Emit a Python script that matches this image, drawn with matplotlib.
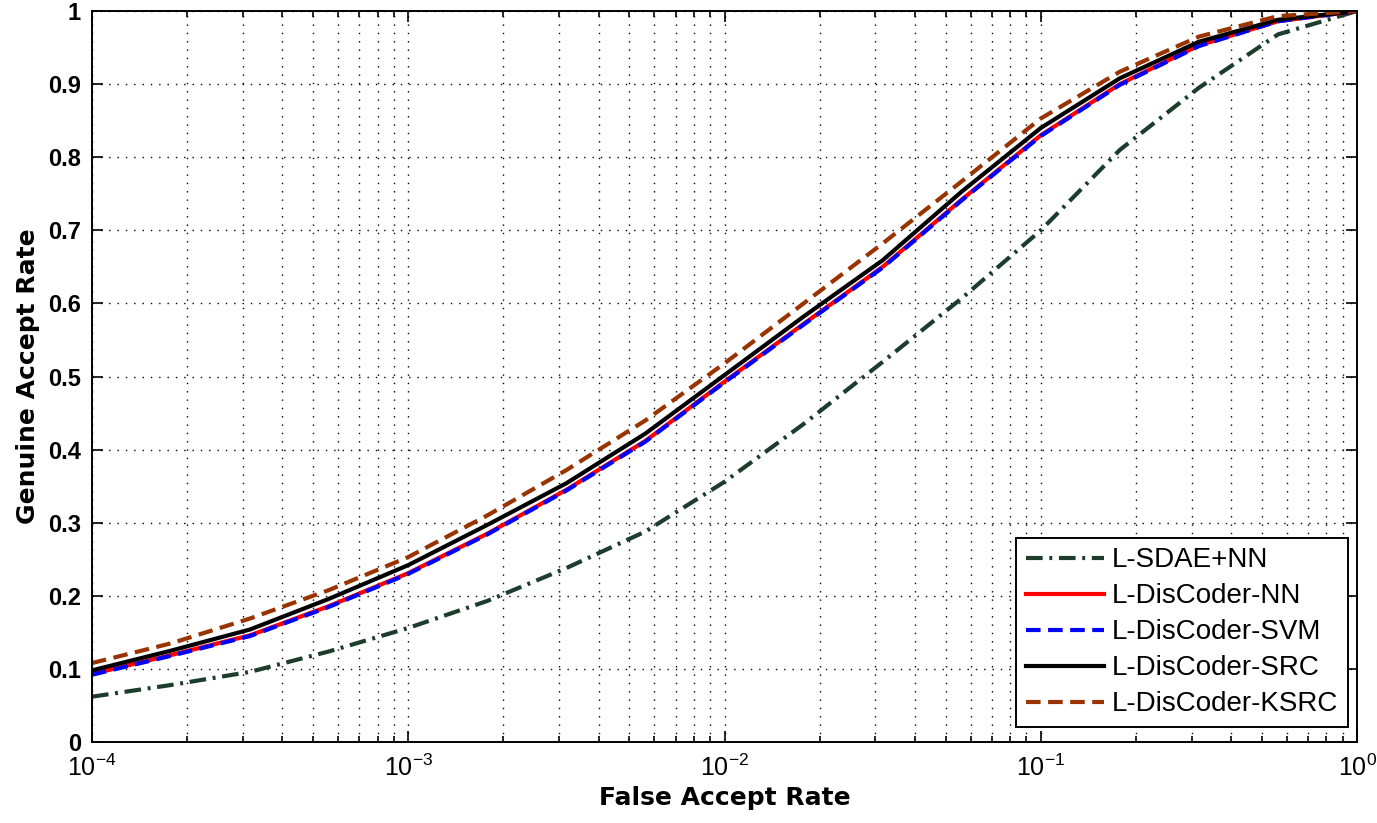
# Curvas ROC (escala log en FAR) - recreacion del estilo MATLAB
import matplotlib
matplotlib.use("Agg")
import matplotlib.pyplot as plt
import numpy as np

# ------------------------------------------------------------
# Datos (log10 del FAR y GAR)
# ------------------------------------------------------------
log_far = [-4.0, -3.75, -3.5, -3.25, -3.0, -2.75, -2.5, -2.25, -2.0,
           -1.75, -1.5, -1.25, -1.0, -0.75, -0.5, -0.25, 0.0]

gar_sdae_nn = [0.062, 0.078, 0.096, 0.124, 0.156, 0.193, 0.238, 0.288, 0.356,
               0.435, 0.520, 0.607, 0.700, 0.810, 0.895, 0.968, 1.0]
gar_nn = [0.093, 0.119, 0.146, 0.186, 0.231, 0.285, 0.345, 0.412, 0.493,
          0.572, 0.650, 0.742, 0.830, 0.900, 0.953, 0.986, 1.0]
gar_svm = [0.092, 0.118, 0.145, 0.185, 0.230, 0.284, 0.344, 0.411, 0.492,
           0.571, 0.649, 0.741, 0.829, 0.899, 0.952, 0.986, 1.0]
gar_src = [0.098, 0.125, 0.154, 0.196, 0.242, 0.297, 0.354, 0.422, 0.502,
           0.582, 0.659, 0.753, 0.840, 0.908, 0.958, 0.988, 1.0]
gar_ksrc = [0.108, 0.135, 0.169, 0.208, 0.253, 0.310, 0.372, 0.440, 0.518,
            0.600, 0.682, 0.767, 0.853, 0.917, 0.965, 0.993, 1.0]

etiquetas = ["L-SDAE+NN", "L-DisCoder-NN", "L-DisCoder-SVM",
             "L-DisCoder-SRC", "L-DisCoder-KSRC"]

far = 10.0 ** np.array(log_far)

plt.rcParams["font.family"] = ["Liberation Sans", "DejaVu Sans"]
plt.rcParams["mathtext.fontset"] = "custom"
plt.rcParams["mathtext.rm"] = "Liberation Sans:bold"
plt.rcParams["mathtext.it"] = "Liberation Sans:bold"
plt.rcParams["mathtext.bf"] = "Liberation Sans:bold"

fig = plt.figure(figsize=(13.77, 8.23), dpi=100)
ax = fig.add_axes([0.0668, 0.0984, 0.9187, 0.8882])

lw = 3.0
ax.plot(far, gar_sdae_nn, color="#1c3d2c", ls=(0, (4, 1.6, 0.7, 1.6)), lw=lw, label=etiquetas[0])
ax.plot(far, gar_nn, color="#ff0000", ls="-", lw=lw, label=etiquetas[1])
ax.plot(far, gar_svm, color="#0000ff", ls=(0, (3.5, 1.8)), lw=lw, label=etiquetas[2])
ax.plot(far, gar_src, color="#000000", ls="-", lw=lw, label=etiquetas[3])
ax.plot(far, gar_ksrc, color="#993300", ls=(0, (3.5, 1.8)), lw=lw, label=etiquetas[4])

ax.set_xscale("log")
ax.set_xlim(1e-4, 1)
ax.set_ylim(0, 1)
ax.set_yticks(np.arange(0, 1.01, 0.1))
ax.set_yticklabels(["0", "0.1", "0.2", "0.3", "0.4", "0.5", "0.6", "0.7", "0.8", "0.9", "1"])

ax.grid(True, which="major", ls=(0, (1, 5)), color="black", lw=1.0)
ax.grid(True, which="minor", axis="x", ls=(0, (1, 5)), color="black", lw=1.0)

ax.tick_params(which="both", direction="in", top=True, right=True, width=1.2)
ax.tick_params(which="major", length=8, labelsize=17)
ax.tick_params(which="minor", length=4)
ax.tick_params(axis="x", which="major", pad=9, labelsize=18)
ax.tick_params(axis="y", which="major", pad=8)
for lbl in ax.get_yticklabels():
    lbl.set_fontweight("bold")

for s in ax.spines.values():
    s.set_linewidth(1.4)

ax.set_xlabel("False Accept Rate", fontsize=18, fontweight="bold",
              family=["DejaVu Sans"], labelpad=4)
ax.set_ylabel("Genuine Accept Rate", fontsize=18, fontweight="bold",
              family=["DejaVu Sans"], labelpad=6)

leg = ax.legend(loc="lower right", bbox_to_anchor=(0.9929, 0.0205),
                fontsize=20, frameon=True, fancybox=False,
                edgecolor="black", framealpha=1, borderaxespad=0,
                handlelength=2.8, handletextpad=0.3, labelspacing=0.36,
                borderpad=0.35)
leg.get_frame().set_linewidth(1.4)

fig.savefig("out.png", dpi=100)
